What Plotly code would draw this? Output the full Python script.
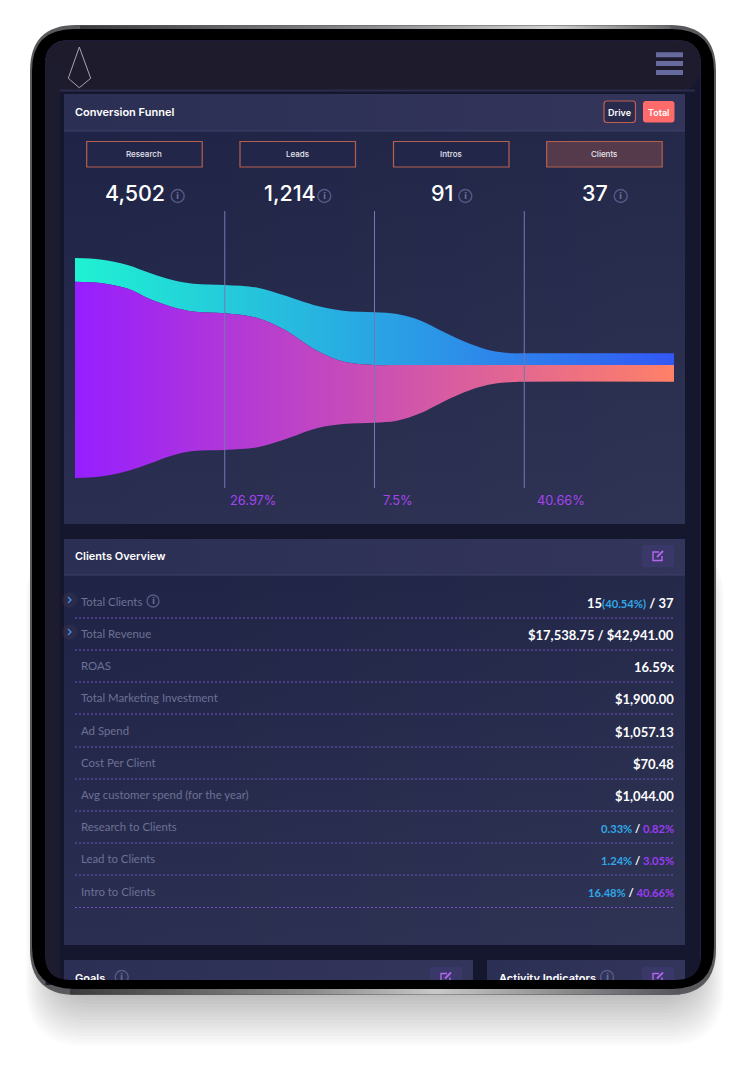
"""
Conversion funnel dashboard shown inside a tablet frame
"""

import plotly.graph_objects as go

# Funnel data
stage_names = ["Research", "Leads", "Intros", "Clients"]
stage_counts = ["4,502", "1,214", "91", "37"]
step_rates = ["26.97%", "7.5%", "40.66%"]

funnel_stage = [0, 0.17, 0.35, 0.5, 0.65, 0.79, 1, 1.22, 1.39, 1.62, 1.79, 2, 2.15, 2.31, 2.46, 2.64, 2.79, 2.93, 3, 4]
funnel_top = [220, 218.5, 213, 205, 198, 194.3, 193, 190.3, 183, 172, 167.3, 165.7, 164, 157.3, 146.3, 134, 127, 124.7, 124.7, 124.7]
funnel_split = [196.3, 195, 189.5, 179, 171, 166.5, 164.7, 160, 149, 127, 116.5, 113, 113, 113, 113, 113, 113, 113, 113, 113]
funnel_bottom = [0, 1.5, 7, 14.5, 22.5, 27, 28, 30.7, 38, 50, 54, 55.3, 57.3, 65, 76.3, 88, 94, 96, 96.3, 96.3]
stage_lines = [1, 2, 3]

# Clients overview rows
BLUE = "color:#2fa8e6;font-size:11.2px"
PURPLE = "color:#9a3cf0;font-size:11.2px"
SMALL = "font-size:11.2px"

row_labels = [
    "Total Clients",
    "Total Revenue",
    "ROAS",
    "Total Marketing Investment",
    "Ad Spend",
    "Cost Per Client",
    "Avg customer spend (for the year)",
    "Research to Clients",
    "Lead to Clients",
    "Intro to Clients",
]
row_values = [
    f"15<span style='{BLUE}'>(40.54%)</span> / 37",
    "$17,538.75 / $42,941.00",
    "16.59x",
    "$1,900.00",
    "$1,057.13",
    "$70.48",
    "$1,044.00",
    f"<span style='{BLUE}'>0.33%</span><span style='{SMALL}'> / </span><span style='{PURPLE}'>0.82%</span>",
    f"<span style='{BLUE}'>1.24%</span><span style='{SMALL}'> / </span><span style='{PURPLE}'>3.05%</span>",
    f"<span style='{BLUE}'>16.48%</span><span style='{SMALL}'> / </span><span style='{PURPLE}'>40.66%</span>",
]

TITLE_FONT = "Inter"
LIST_FONT = "Lato"

fig = go.Figure()
shapes = []
notes = []


def rrect(x0, y0, x1, y1, r):
    return (
        f"M{x0 + r},{y0} L{x1 - r},{y0} Q{x1},{y0} {x1},{y0 + r} "
        f"L{x1},{y1 - r} Q{x1},{y1} {x1 - r},{y1} L{x0 + r},{y1} "
        f"Q{x0},{y1} {x0},{y1 - r} L{x0},{y0 + r} Q{x0},{y0} {x0 + r},{y0} Z"
    )


def box(x0, y0, x1, y1, fill, r=0, line=None, width=1, layer="above"):
    shapes.append(
        dict(
            type="path",
            path=rrect(x0, y0, x1, y1, r),
            xref="x",
            yref="y",
            fillcolor=fill,
            line=dict(color=line or "rgba(0,0,0,0)", width=width if line else 0),
            layer=layer,
        )
    )


def text(x, y, label, size, color, family=TITLE_FONT, weight=400, anchor="left"):
    # annotations keep a small pad around their text
    shift = {"left": -2, "right": 2, "center": 0}[anchor]
    notes.append(
        dict(
            x=x + shift,
            y=y,
            xref="x",
            yref="y",
            text=label,
            showarrow=False,
            xanchor=anchor,
            yanchor="middle",
            align=anchor,
            font=dict(size=size, color=color, family=family, weight=weight),
        )
    )


def gradient_rect(x0, y0, x1, y1, kind, colors):
    fig.add_trace(
        go.Scatter(
            x=[x0, x1, x1, x0, x0],
            y=[y0, y0, y1, y1, y0],
            mode="lines",
            line=dict(width=0),
            fill="toself",
            fillgradient=dict(type=kind, colorscale=colors),
            hoverinfo="skip",
            showlegend=False,
        )
    )


def panel(x0, y0, x1, y1, head_h):
    gradient_rect(x0, y0, x1, y1, "vertical", [[0, "#2a2e50"], [1, "#1e2345"]])
    gradient_rect(x0, y0, x1, y1, "horizontal", [[0, "rgba(255,255,255,0)"], [1, "rgba(255,255,255,0.025)"]])
    gradient_rect(x0, y0, x1, y0 + head_h, "horizontal", [[0, "#2c2f54"], [1, "#33355a"]])
    shapes.append(
        dict(type="line", xref="x", yref="y", x0=x0, x1=x1, y0=y0 + head_h, y1=y0 + head_h,
             line=dict(color="#3d4069", width=1), layer="above")
    )


def info_icon(x, y, r=6.5):
    shapes.append(
        dict(type="circle", xref="x", yref="y", x0=x - r, x1=x + r, y0=y - r, y1=y + r,
             line=dict(color="#555a85", width=1.4), fillcolor="rgba(0,0,0,0)", layer="above")
    )
    text(x, y, "i", 9, "#666b96", family="DejaVu Sans", weight=700, anchor="center")


def edit_button(x0, y0, x1, y1):
    box(x0, y0, x1, y1, "#393869", r=2)
    cx = (x0 + x1) / 2
    cy = (y0 + y1) / 2
    shapes.append(
        dict(type="path", xref="x", yref="y", layer="above",
             path=f"M{cx + 1},{cy - 4} L{cx - 5},{cy - 4} L{cx - 5},{cy + 4.5} L{cx + 4},{cy + 4.5} L{cx + 4},{cy}",
             line=dict(color="#b565f0", width=1.4))
    )
    shapes.append(
        dict(type="line", xref="x", yref="y", layer="above", x0=cx - 1, y0=cy + 1, x1=cx + 5, y1=cy - 5,
             line=dict(color="#b565f0", width=1.8))
    )


# Soft shadow under the tablet
for i in range(20):
    box(60 - 1.8 * i, 560 - i, 690 + 1.8 * i, 985 + 3.2 * i, "rgba(0,0,0,0.014)", r=40 + i, layer="below")

# Tablet body and screen
box(30, 25, 716, 995, "#5a5a5e", r=46, layer="below")
box(45, 40, 701, 985, "#15172f", r=25, line="rgba(125,60,220,0.55)", width=0.6, layer="below")
box(45.5, 40.5, 700.5, 91, "#1e1b2c", r=24, layer="below")
box(45.5, 60, 60, 985, "#1d1b2e", layer="below")
shapes.append(
    dict(type="line", xref="x", yref="y", x0=60, x1=695, y0=90.5, y1=90.5,
         line=dict(color="#2b2d4d", width=2), layer="below")
)

# Metal highlights on the top and bottom edge
gradient_rect(80, 25.5, 670, 29.5, "horizontal", [[0, "#3a3a3c"], [0.5, "#8d8d90"], [0.8, "#d0d0d0"], [1, "#6a6a6c"]])
gradient_rect(70, 989, 680, 994.5, "horizontal", [[0, "#3a3a3c"], [0.4, "#8d8d90"], [0.6, "#c8c8c8"], [1, "#55555a"]])

# Panels
panel(64, 94, 685, 524, 37)
panel(64, 539, 685, 945, 36)
panel(64, 960, 473, 985, 25)
panel(487, 960, 685, 985, 25)

# Clipped titles sit under the tablet frame, so they stay plain traces
fig.add_trace(
    go.Scatter(
        x=[75, 499],
        y=[979.5, 979.5],
        mode="text",
        text=["Goals", "Activity Indicators"],
        textposition="middle right",
        textfont=dict(size=11, color="#ffffff", family=TITLE_FONT, weight=600),
        hoverinfo="skip",
        showlegend=False,
        cliponaxis=False,
    )
)

# Funnel
fig.add_trace(
    go.Scatter(
        x=funnel_stage, y=funnel_split, xaxis="x2", yaxis="y2", mode="lines",
        line=dict(width=0, shape="spline", smoothing=1), hoverinfo="skip", showlegend=False,
    )
)
fig.add_trace(
    go.Scatter(
        x=funnel_stage, y=funnel_top, xaxis="x2", yaxis="y2", mode="lines",
        line=dict(width=0, shape="spline", smoothing=1), fill="tonexty",
        fillgradient=dict(type="horizontal", colorscale=[[0, "#1ff2d2"], [1, "#3358f5"]]),
        hoverinfo="skip", showlegend=False,
    )
)
fig.add_trace(
    go.Scatter(
        x=funnel_stage, y=funnel_bottom, xaxis="x2", yaxis="y2", mode="lines",
        line=dict(width=0, shape="spline", smoothing=1), hoverinfo="skip", showlegend=False,
    )
)
fig.add_trace(
    go.Scatter(
        x=funnel_stage, y=funnel_split, xaxis="x2", yaxis="y2", mode="lines",
        line=dict(width=0, shape="spline", smoothing=1), fill="tonexty",
        fillgradient=dict(type="horizontal", colorscale=[[0, "#961eff"], [1, "#ff8168"]]),
        hoverinfo="skip", showlegend=False,
    )
)
for stage in stage_lines:
    fig.add_trace(
        go.Scatter(
            x=[stage, stage], y=[-10, 267], xaxis="x2", yaxis="y2", mode="lines",
            line=dict(color="#7577b5", width=1), hoverinfo="skip", showlegend=False,
        )
    )

# Header of the screen
shapes.append(
    dict(type="path", xref="x", yref="y", layer="above", line=dict(color="#a5a5b3", width=1),
         path="M79.3,47 L90.7,78.3 L79.3,87.7 L68.3,78.3 Z")
)
for y0 in (52.3, 61, 70):
    box(656, y0, 683, y0 + 5, "#666a9c")

# Conversion funnel panel
text(75, 112, "Conversion Funnel", 11, "#ffffff", weight=600)
box(604, 101, 635.5, 122.5, "#292b4c", r=3, line="#c0604f", width=1.2)
text(619.7, 112, "Drive", 9, "#ffffff", weight=600, anchor="center")
box(643, 101, 674.5, 122.5, "#ff6b6b", r=3)
text(658.7, 112, "Total", 9, "#ffffff", weight=600, anchor="center")

box_lefts = [86.7, 240, 393.5, 546.7]
number_x = [135, 289.5, 441.5, 595]
info_x = [177.7, 324.3, 465.3, 620.7]
for i, name in enumerate(stage_names):
    left = box_lefts[i]
    fill = "#553a4c" if name == "Clients" else "#22274a"
    box(left, 141.5, left + 115.5, 167, fill, line="#b5604f", width=1.2)
    text(left + 57.7, 154, name, 8, "#e6e6ee", weight=500, anchor="center")
    text(number_x[i], 193, stage_counts[i], 21.5, "#ffffff", weight=500, anchor="center")
    info_icon(info_x[i], 196)

rate_x = [230, 383, 537]
for x, rate in zip(rate_x, step_rates):
    text(x, 500.5, rate, 12.8, "#a544f0")

# Clients overview panel
text(75, 555.5, "Clients Overview", 11, "#ffffff", weight=600)
edit_button(642, 545, 674, 567)

row_line_y = [618, 650, 682, 714, 747, 779, 811, 843, 875, 907.5]
for i, (label, value) in enumerate(zip(row_labels, row_values)):
    line_y = row_line_y[i]
    text(81, line_y - 16.5, label, 11.4, "#6d7195", family=LIST_FONT)
    text(674, line_y - 15, value, 13, "#ffffff", family=LIST_FONT, weight=700, anchor="right")
    shapes.append(
        dict(type="line", xref="x", yref="y", x0=75, x1=674, y0=line_y, y1=line_y, layer="above",
             line=dict(color="#7055c0", width=1, dash="2px,2px"))
    )
info_icon(153, 601, r=6)

# Row chevrons
for y in (600, 632):
    shapes.append(
        dict(type="circle", xref="x", yref="y", x0=62, x1=77, y0=y - 7.5, y1=y + 7.5, layer="above",
             fillcolor="rgba(90,80,90,0.18)", line=dict(width=0))
    )
    shapes.append(
        dict(type="path", xref="x", yref="y", layer="above", path=f"M68,{y - 3} L71,{y} L68,{y + 3}",
             line=dict(color="#4a8de8", width=1.3))
    )

# Lower panels, cut by the frame
info_icon(121.7, 977)
info_icon(607, 977)
edit_button(430, 967, 462, 988)
edit_button(642, 967, 674, 988)

# Tablet frame over the screen, with a hole for the screen
shapes.append(
    dict(type="path", xref="x", yref="y", layer="above", fillcolor="#000000", line=dict(width=0),
         path=rrect(32, 29, 714, 989, 42) + " " + rrect(45, 40, 701, 980, 25))
)

fig.update_layout(
    width=750,
    height=1068,
    margin=dict(l=0, r=0, t=0, b=0),
    paper_bgcolor="#ffffff",
    plot_bgcolor="rgba(0,0,0,0)",
    showlegend=False,
    shapes=shapes,
    annotations=notes,
    xaxis=dict(range=[0, 750], domain=[0, 1], visible=False, fixedrange=True),
    yaxis=dict(range=[1068, 0], domain=[0, 1], visible=False, fixedrange=True),
    xaxis2=dict(range=[0, 4], domain=[75 / 750, 674 / 750], visible=False, fixedrange=True, anchor="y2"),
    yaxis2=dict(range=[-12, 268], domain=[(1068 - 490) / 1068, (1068 - 210) / 1068], visible=False,
                fixedrange=True, anchor="x2"),
)

fig.write_html("out.html", config={"displayModeBar": False}, post_script="document.body.style.margin='0';")
